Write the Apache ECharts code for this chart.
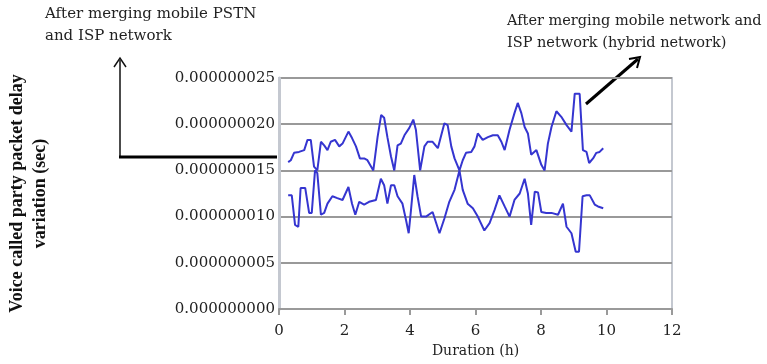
<!DOCTYPE html>
<html>
<head>
<meta charset="utf-8">
<script src="https://cdn.jsdelivr.net/npm/echarts@6/dist/echarts.min.js"></script>
<style>
html,body{margin:0;padding:0;background:#fff;}
#chart{width:767px;height:364px;}
</style>
</head>
<body>
<div id="chart"></div>
<script>
// Duration (h) and values in units of 1e-9 s
const hybridHours = [0.28,0.36,0.46,0.61,0.77,0.87,0.97,1.07,1.17,1.28,1.38,1.48,1.58,1.71,1.84,1.94,2.12,2.23,2.35,2.47,2.60,2.70,2.88,3.01,3.12,3.21,3.31,3.42,3.52,3.62,3.72,3.83,3.98,4.10,4.18,4.31,4.44,4.54,4.69,4.85,5.05,5.15,5.26,5.36,5.51,5.61,5.71,5.87,5.97,6.07,6.22,6.38,6.53,6.68,6.79,6.89,7.04,7.19,7.29,7.40,7.50,7.60,7.70,7.86,8.01,8.11,8.21,8.32,8.47,8.62,8.78,8.93,9.03,9.18,9.28,9.39,9.47,9.59,9.69,9.79,9.90];
const hybridValues = [15.9,16.1,16.9,17.0,17.2,18.3,18.3,15.4,15.0,18.1,17.7,17.2,18.1,18.3,17.6,17.9,19.2,18.5,17.6,16.3,16.3,16.1,15.0,18.6,21.0,20.7,18.6,16.5,15.0,17.7,17.9,18.8,19.6,20.5,19.4,15.0,17.6,18.1,18.1,17.4,20.1,19.9,17.6,16.3,15.0,16.1,16.9,17.0,17.6,19.0,18.3,18.6,18.8,18.8,18.1,17.2,19.4,21.2,22.3,21.2,19.7,19.0,16.7,17.2,15.6,15.0,17.9,19.7,21.4,20.8,19.9,19.2,23.3,23.3,17.2,17.0,15.8,16.3,16.9,17.0,17.4];
const pstnHours = [0.28,0.39,0.49,0.59,0.66,0.80,0.92,1.00,1.10,1.17,1.28,1.38,1.48,1.63,1.78,1.94,2.12,2.23,2.33,2.45,2.60,2.75,2.96,3.11,3.21,3.31,3.42,3.52,3.62,3.77,3.88,3.96,4.03,4.13,4.23,4.34,4.49,4.69,4.90,5.05,5.20,5.36,5.51,5.61,5.76,5.92,6.07,6.27,6.43,6.58,6.73,6.89,7.04,7.19,7.35,7.50,7.60,7.70,7.81,7.91,8.01,8.16,8.32,8.52,8.67,8.78,8.93,9.06,9.16,9.27,9.39,9.49,9.64,9.74,9.90];
const pstnValues = [12.3,12.3,9.1,8.9,13.1,13.1,10.4,10.4,15.0,14.7,10.2,10.4,11.4,12.2,12.0,11.8,13.2,11.4,10.2,11.6,11.3,11.6,11.8,14.1,13.4,11.4,13.4,13.4,12.2,11.4,9.6,8.2,10.7,14.5,12.2,10.0,10.0,10.5,8.2,9.8,11.6,12.9,15.0,12.9,11.4,10.9,10.0,8.5,9.3,10.7,12.3,11.1,10.0,11.8,12.5,14.1,12.5,9.1,12.7,12.6,10.5,10.4,10.4,10.2,11.4,8.9,8.2,6.2,6.2,12.2,12.3,12.3,11.3,11.1,10.9];
const xTicks = [0,2,4,6,8,10,12];
const yTickLabels = ['0.000000000','0.000000005','0.000000010','0.000000015','0.000000020','0.000000025'];
const yAxisTitle = 'Voice called party packet delay\nvariation (sec)';
const xAxisTitle = 'Duration (h)';
const leftNote = 'After merging mobile PSTN\nand ISP network';
const rightNote = 'After merging mobile network and\nISP network (hybrid network)';

const serif = '"DejaVu Serif", "Liberation Serif", serif';
const chart = echarts.init(document.getElementById('chart'), null, {renderer:'canvas'});
const pair = (xs, ys) => xs.map((x,i)=>[x, ys[i]]);
chart.setOption({
  animation:false,
  backgroundColor:'#fff',
  grid:{left:279,right:95,top:78,bottom:55,show:true,borderColor:'#c4c8d0',borderWidth:2,
    containLabel:false,outerBoundsMode:'none'},
  xAxis:{type:'value',min:xTicks[0],max:xTicks[xTicks.length-1],interval:2,
    name:xAxisTitle,nameLocation:'middle',nameGap:33,
    nameTextStyle:{fontFamily:serif,fontSize:14,color:'#222'},
    axisLine:{show:true,lineStyle:{color:'#9a9a9a',width:2}},
    axisTick:{show:true,inside:false,length:6,lineStyle:{color:'#9a9a9a',width:2}},
    axisLabel:{fontFamily:serif,fontSize:15,color:'#222',margin:15},
    splitLine:{show:false}},
  yAxis:{type:'value',min:0,max:25,interval:5,
    name:yAxisTitle,nameLocation:'middle',nameRotate:90,nameGap:227,
    nameTextStyle:{fontFamily:'"Liberation Serif", serif',fontWeight:'bold',fontSize:18,color:'#111',lineHeight:23},
    axisLine:{show:true,lineStyle:{color:'#c4c8d0',width:3}},
    axisTick:{show:false},
    axisLabel:{fontFamily:serif,fontSize:15,color:'#222',margin:4,
      formatter:(v)=>yTickLabels[Math.round(v/5)]},
    splitLine:{show:true,lineStyle:{color:'#999',width:2}}},
  series:[
    {name:'hybrid',type:'line',data:pair(hybridHours,hybridValues),showSymbol:false,symbol:'none',
     lineStyle:{color:'#3535d0',width:2},z:3},
    {name:'pstn',type:'line',data:pair(pstnHours,pstnValues),showSymbol:false,symbol:'none',
     lineStyle:{color:'#3535d0',width:2},z:3}
  ],
  graphic:[
    {type:'text',left:45,top:3,style:{text:leftNote,font:'15px '+serif,fill:'#222',lineHeight:22}},
    {type:'text',left:507,top:10,style:{text:rightNote,font:'14.5px '+serif,fill:'#222',lineHeight:22}},
    {type:'polyline',shape:{points:[[120,157],[120,60]]},style:{stroke:'#111',lineWidth:1.5}},
    {type:'polyline',shape:{points:[[114,67],[120,58],[126,67]]},style:{stroke:'#111',lineWidth:1.5,fill:null}},
    {type:'polyline',shape:{points:[[119,157],[277,157]]},style:{stroke:'#000',lineWidth:3}},
    {type:'polyline',shape:{points:[[586,104],[638,59]]},style:{stroke:'#000',lineWidth:3}},
    {type:'polyline',shape:{points:[[629,59],[640,57],[637,68]]},style:{stroke:'#000',lineWidth:2,fill:null}}
  ]
});
</script>
</body>
</html>
